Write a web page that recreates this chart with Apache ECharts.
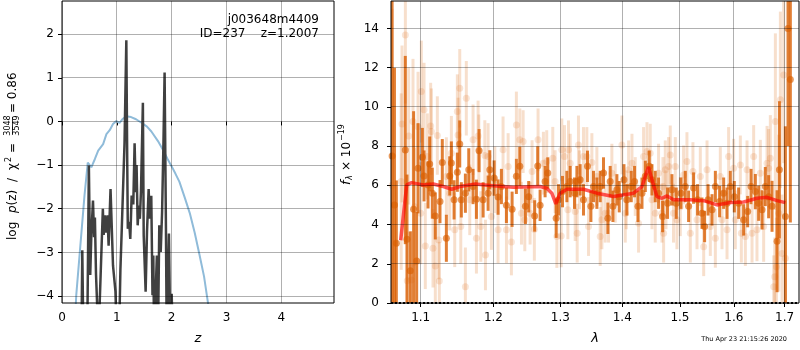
<!DOCTYPE html>
<html>
<head>
<meta charset="utf-8">
<script src="https://cdn.jsdelivr.net/npm/echarts@6/dist/echarts.min.js"></script>
<style>html,body{margin:0;padding:0;background:#fff}#main{width:800px;height:350px}</style>
</head>
<body>
<div id="main"></div>
<script>
// left panel: log p(z)
var zTicks = [0, 1, 2, 3, 4];
var pzTicks = [-4, -3, -2, -1, 0, 1, 2];
var zRange = [0, 4.96];
var pzRange = [-4.16, 2.76];
var pzSmooth = [[0.24,-4.5],[0.26,-3.98],[0.32,-3.07],[0.41,-1.70],[0.47,-0.94],[0.535,-1.05],[0.60,-0.86],
  [0.66,-0.67],[0.75,-0.52],[0.81,-0.29],[0.87,-0.2],[0.93,-0.06],[0.99,0.01],[1.05,-0.03],[1.10,0.05],
  [1.17,0.12],[1.26,0.10],[1.35,0.05],[1.45,-0.03],[1.55,-0.12],[1.63,-0.23],[1.75,-0.45],[1.84,-0.65],
  [1.92,-0.85],[2.0,-1.03],[2.07,-1.2],[2.14,-1.38],[2.24,-1.75],[2.33,-2.1],[2.42,-2.55],[2.51,-3.07],
  [2.59,-3.55],[2.66,-4.14],[2.70,-4.5]];
var pzFit = [[0.30,-5],[0.355,-5],[0.37,-2.95],[0.39,-5],[0.46,-5],[0.49,-1.01],[0.515,-3.52],[0.535,-2.6],
  [0.565,-1.81],[0.585,-2.65],[0.60,-2.2],[0.62,-3.5],[0.665,-5],[0.70,-5],[0.745,-2.0],[0.76,-2.6],
  [0.78,-2.15],[0.80,-2.55],[0.83,-2.15],[0.85,-2.85],[0.885,-1.55],[0.93,-3.3],[0.975,-3.9],[1.0,-5],
  [1.04,-5],[1.065,-3.4],[1.09,-2.46],[1.12,-2.5],[1.14,-0.5],[1.173,1.86],[1.19,-1.0],[1.20,-2.46],
  [1.225,-2.3],[1.245,-2.69],[1.27,-1.7],[1.30,-1.9],[1.324,-0.5],[1.345,-1.62],[1.36,-1.0],[1.38,-2.38],
  [1.40,-1.93],[1.42,-2.23],[1.44,-1.6],[1.475,0.43],[1.49,-2.61],[1.525,-3.9],[1.55,-2.53],[1.58,-1.55],
  [1.60,-2.23],[1.628,-1.7],[1.65,-3.98],[1.665,-3.07],[1.68,-5],[1.73,-3.07],[1.75,-5],[1.774,-2.38],
  [1.80,-2.99],[1.825,-2.08],[1.85,-0.5],[1.871,1.12],[1.895,-2.38],[1.91,-5],[1.95,-2.57],[1.975,-5],
  [2.0,-3.95],[2.02,-5],[2.10,-5]];

// right panel: spectrum [lambda, flux, err]
var lamTicks = [1.1, 1.2, 1.3, 1.4, 1.5, 1.6, 1.7];
var fluxTicks = [0, 2, 4, 6, 8, 10, 12, 14];
var lamRange = [1.0616, 1.7296];
var fluxRange = [0, 15.4];
var specDark = [[1.0630,7.5,8.5],[1.0660,5.0,7.0],[1.0684,3.05,3.2],[1.0799,7.8,4.8],[1.0821,3.25,3.3],
  [1.0864,1.65,2.0],[1.0907,4.78,5.0],[1.0947,2.14,2.5],[1.0965,6.87,2.3],[1.1022,7.43,1.5],[1.1044,6.48,1.3],
  [1.1097,6.02,1.2],[1.1119,7.09,1.4],[1.1154,5.6,1.3],[1.1194,4.44,1.2],[1.1257,5.17,1.1],[1.1288,7.16,1.2],
  [1.1343,3.3,1.2],[1.1389,6.48,1.0],[1.1411,7.14,1.1],[1.1448,5.26,1.0],[1.1493,6.67,1.0],[1.1526,8.11,1.2],
  [1.1548,5.26,0.9],[1.1604,5.6,1.0],[1.1651,6.79,1.1],[1.1711,5.94,0.9],[1.1758,5.29,1.0],[1.1796,7.77,1.1],
  [1.1853,5.26,0.9],[1.1924,5.6,0.9],[1.1948,6.79,1.0],[1.2010,6.37,0.9],[1.2067,5.4,0.9],[1.2115,5.94,0.9],
  [1.2188,4.98,0.9],[1.2271,4.78,0.9],[1.2334,6.46,0.9],[1.2385,6.97,1.0],[1.2468,4.93,0.9],[1.2517,5.42,0.8],
  [1.2607,4.44,0.8],[1.2653,6.99,1.0],[1.2689,4.98,0.8],[1.2765,6.19,0.8],[1.2806,6.63,0.8],[1.2935,4.32,1.0],
  [1.2971,5.26,0.8],[1.3034,5.68,0.8],[1.3102,5.94,0.8],[1.3154,6.19,0.8],[1.3222,5.6,0.8],[1.3260,6.19,0.8],
  [1.3312,6.28,0.8],[1.3365,5.26,0.8],[1.3429,6.97,0.8],[1.3484,4.93,0.8],[1.3526,5.94,0.8],[1.3581,5.6,0.8],
  [1.3635,5.94,0.8],[1.3689,6.63,0.8],[1.3761,4.32,0.8],[1.3799,6.19,0.8],[1.3844,4.93,0.8],[1.3910,5.77,0.8],
  [1.3949,5.42,0.8],[1.4028,6.28,0.8],[1.4078,5.26,0.8],[1.4151,5.94,0.8],[1.4207,6.19,0.8],[1.4265,4.93,0.8],
  [1.4334,5.6,0.8],[1.4391,6.46,0.8],[1.4459,6.97,0.8],[1.4506,6.28,0.8],[1.4563,5.94,0.8],[1.4621,5.6,0.8],
  [1.4692,4.41,0.8],[1.4779,5.09,0.8],[1.4857,5.77,0.8],[1.4934,5.09,0.8],[1.5018,5.6,0.8],[1.5096,5.94,0.8],
  [1.5156,4.93,0.8],[1.5247,5.86,0.8],[1.5320,5.26,0.8],[1.5401,4.58,0.8],[1.5449,3.9,0.8],[1.5513,5.26,0.8],
  [1.5587,4.75,0.8],[1.5649,5.94,0.8],[1.5729,5.17,0.8],[1.5805,5.6,0.8],[1.5869,5.09,0.8],[1.5932,5.94,0.8],
  [1.6008,5.42,0.8],[1.6091,5.09,0.8],[1.6188,4.24,0.8],[1.6266,4.66,0.8],[1.6332,5.94,0.9],[1.6416,5.68,0.9],
  [1.6481,5.09,0.9],[1.6548,4.75,1.0],[1.6613,5.94,1.0],[1.6679,5.42,1.1],[1.6747,4.93,1.3],[1.6848,3.15,2.6],
  [1.6895,6.79,3.5],[1.7017,4.41,4.6],[1.7070,14.0,6.0],[1.7118,11.4,7.3]];
var specLite = [[1.0630,6.0,9.0],[1.0746,6.19,4.5],[1.0757,9.13,4.0],[1.0800,13.67,3.5],[1.0825,1.14,2.5],
  [1.0843,8.52,3.5],[1.0877,1.17,2.5],[1.0899,9.25,3.2],[1.0920,4.91,3.0],[1.0965,8.99,2.8],[1.1000,4.58,2.6],
  [1.1008,10.78,2.6],[1.1044,9.85,2.4],[1.1061,2.91,2.2],[1.1088,7.47,2.2],[1.1132,9.03,2.2],[1.1141,8.74,2.2],
  [1.1163,2.79,2.0],[1.1194,1.89,2.0],[1.1221,8.54,2.0],[1.1240,3.21,2.0],[1.1248,1.12,2.0],[1.1343,6.45,2.0],
  [1.1389,5.6,1.9],[1.1411,7.64,1.9],[1.1457,3.73,1.9],[1.1493,9.76,1.9],[1.1503,8.57,1.9],[1.1526,10.95,2.0],
  [1.1540,3.9,1.9],[1.1604,0.83,2.0],[1.1617,10.44,1.9],[1.1665,5.26,1.8],[1.1711,8.32,1.8],[1.1758,3.30,1.8],
  [1.1782,8.52,1.8],[1.1792,7.81,1.8],[1.1820,3.9,1.8],[1.1877,7.52,1.8],[1.1886,2.45,1.8],[1.1924,7.47,1.7],
  [1.1971,4.41,1.7],[1.2020,6.28,1.7],[1.2067,3.73,1.7],[1.2139,7.81,1.7],[1.2188,3.73,1.7],[1.2213,6.96,1.7],
  [1.2261,3.11,1.7],[1.2334,9.08,1.7],[1.2385,8.32,1.6],[1.2409,4.58,1.6],[1.2434,8.23,1.6],[1.2459,4.24,1.6],
  [1.2538,4.58,1.6],[1.2568,6.70,1.6],[1.2602,3.76,1.6],[1.2658,8.32,1.6],[1.2739,7.13,1.6],[1.2790,7.21,1.6],
  [1.2883,7.38,1.6],[1.2919,6.19,1.6],[1.2946,3.39,1.6],[1.3013,3.42,1.6],[1.3023,7.81,1.6],[1.3065,7.47,1.6],
  [1.3118,4.75,1.5],[1.3128,7.81,1.5],[1.3154,7.13,1.5],[1.3233,4.66,1.5],[1.3265,3.56,1.5],[1.3285,8.06,1.5],
  [1.3301,6.28,1.5],[1.3365,7.47,1.5],[1.3419,7.47,1.5],[1.3446,3.9,1.5],[1.3500,7.16,1.5],[1.3581,6.45,1.5],
  [1.3635,3.39,1.5],[1.3662,4.24,1.5],[1.3717,4.58,1.5],[1.3772,4.58,1.5],[1.3827,6.62,1.5],[1.3882,5.6,1.5],
  [1.3994,8.06,1.5],[1.4050,4.58,1.5],[1.4067,5.26,1.5],[1.4106,6.79,1.5],[1.4163,7.13,1.5],[1.4219,5.94,1.5],
  [1.4275,4.07,1.5],[1.4361,7.47,1.5],[1.4420,7.72,1.5],[1.4476,7.64,1.5],[1.4506,5.26,1.5],[1.4563,4.58,1.5],
  [1.4621,6.62,1.5],[1.4681,4.58,1.5],[1.4698,5.94,1.5],[1.4710,3.56,1.5],[1.4739,6.79,1.5],[1.4751,5.26,1.5],
  [1.4797,6.96,1.5],[1.4827,7.55,1.5],[1.4885,4.58,1.5],[1.4917,6.96,1.5],[1.4946,4.24,1.5],[1.5006,4.91,1.5],
  [1.5065,6.53,1.5],[1.5126,7.21,1.5],[1.5187,3.56,1.5],[1.5235,6.70,1.5],[1.5309,4.24,1.5],[1.5370,6.45,1.5],
  [1.5432,2.87,1.5],[1.5494,6.79,1.5],[1.5555,3.90,1.5],[1.5649,3.30,1.5],[1.5742,6.45,1.5],[1.5774,4.24,1.5],
  [1.5869,3.73,1.5],[1.5899,7.47,1.5],[1.5995,6.87,1.5],[1.6027,4.24,1.5],[1.6124,7.04,1.5],[1.6143,3.56,1.5],
  [1.6221,3.39,1.5],[1.6253,6.79,1.5],[1.6351,3.56,1.5],[1.6383,7.47,1.6],[1.6448,3.73,1.6],[1.6514,6.62,1.7],
  [1.6580,3.9,1.8],[1.6647,7.13,1.9],[1.6679,6.87,2.0],[1.6713,7.38,2.2],[1.6781,0.83,1.6],[1.6801,1.34,2.0],
  [1.6814,9.25,4.5],[1.6835,1.85,2.5],[1.6881,4.58,4.0],[1.6915,10.36,4.5],[1.6949,2.53,3.0],[1.6983,11.63,4.5],
  [1.7017,2.28,3.0]];
var specModel = [[1.0740,3.2],[1.0817,6.02],[1.0882,6.14],[1.1034,6.02],[1.1167,6.07],[1.1302,5.94],
  [1.1416,5.8],[1.1530,5.94],[1.1739,6.07],[1.1952,5.99],[1.2290,5.9],[1.2689,5.94],[1.2791,5.85],
  [1.2868,5.6],[1.2930,5.05],[1.2997,5.6],[1.3102,5.8],[1.3365,5.8],[1.3581,5.6],[1.3854,5.43],
  [1.4191,5.6],[1.4334,5.94],[1.4391,6.46],[1.4447,6.94],[1.4506,6.28],[1.4592,5.43],[1.4681,5.34],
  [1.4768,5.46],[1.4886,5.26],[1.5187,5.26],[1.5432,5.22],[1.5680,5.0],[1.5932,5.12],[1.6188,5.15],
  [1.6449,5.34],[1.6647,5.39],[1.6848,5.22],[1.7017,5.12]];
var zeroLine = [[lamRange[0], 0], [lamRange[1], 0]];

var FONT = 'DejaVu Sans';
function minus(v) { return String(v).replace('-', '\u2212'); }
function errBar(color) {
    return function (params, api) {
        var x = api.value(0), y = api.value(1), e = api.value(2);
        var p1 = api.coord([x, y - e]);
        var p2 = api.coord([x, y + e]);
        return {type: 'line', shape: {x1: p1[0], y1: p1[1], x2: p2[0], y2: p2[1]},
            style: {stroke: color, lineWidth: 3}};
    };
}
// grid lines: one custom item per tick, snapped to the pixel grid
function gridSeries(idx, vertical, ticks, xr, yr) {
    var data = ticks.map(function (v) { return vertical ? [v, yr[0]] : [xr[0], v]; });
    return {type: 'custom', xAxisIndex: idx, yAxisIndex: idx, data: data, z: 8, clip: false,
        encode: {x: 0, y: 1},
        renderItem: function (params, api) {
            var v = api.value(vertical ? 0 : 1);
            var a = vertical ? api.coord([v, yr[0]]) : api.coord([xr[0], v]);
            var b = vertical ? api.coord([v, yr[1]]) : api.coord([xr[1], v]);
            var shape = vertical
                ? {x1: Math.floor(a[0]) + 0.5, y1: a[1], x2: Math.floor(a[0]) + 0.5, y2: b[1]}
                : {x1: a[0], y1: Math.floor(a[1]) + 0.5, x2: b[0], y2: Math.floor(a[1]) + 0.5};
            return {type: 'line', shape: shape, style: {stroke: 'rgba(0,0,0,0.31)', lineWidth: 1}};
        }};
}
function frame(idx, xr, yr) {
    return {type: 'line', xAxisIndex: idx, yAxisIndex: idx, showSymbol: false, silent: true, clip: false, z: 9,
        data: [[xr[0], yr[0]], [xr[1], yr[0]], [xr[1], yr[1]], [xr[0], yr[1]], [xr[0], yr[0]]],
        lineStyle: {color: '#000', width: 1}};
}
var tickStyle = {show: true, length: 4, lineStyle: {color: '#000', width: 1}};
var labelStyle = {color: '#000', fontSize: 12, fontFamily: FONT};
function txt(x, y, s, font, extra) {
    return {type: 'text', x: x, y: y, style: Object.assign({text: s, fill: '#000', font: font,
        verticalAlign: 'middle'}, extra || {})};
}

var chart = echarts.init(document.getElementById('main'));
var option = {
    animation: false,
    grid: [
        {left: 62, top: 1, width: 272, height: 303, show: false},
        {left: 391, top: 1, width: 408, height: 302, show: false}
    ],
    xAxis: [
        {gridIndex: 0, type: 'value', min: zRange[0], max: zRange[1],
            axisLine: {show: false}, axisTick: Object.assign({customValues: zTicks}, tickStyle),
            axisLabel: Object.assign({customValues: zTicks, margin: 9}, labelStyle),
            splitLine: {show: false},
            name: 'z', nameLocation: 'middle', nameGap: 29,
            nameTextStyle: {fontSize: 13, fontStyle: 'italic', color: '#000', fontFamily: FONT}},
        {gridIndex: 1, type: 'log', min: lamRange[0], max: lamRange[1],
            axisLine: {show: false}, axisTick: Object.assign({customValues: lamTicks}, tickStyle),
            axisLabel: Object.assign({customValues: lamTicks, margin: 9,
                formatter: function (v) { return Number(v).toFixed(1); }}, labelStyle),
            splitLine: {show: false},
            name: 'λ', nameLocation: 'middle', nameGap: 29,
            nameTextStyle: {fontSize: 13, fontStyle: 'italic', color: '#000', fontFamily: FONT}}
    ],
    yAxis: [
        {gridIndex: 0, type: 'value', min: pzRange[0], max: pzRange[1],
            axisLine: {show: false}, axisTick: Object.assign({customValues: pzTicks}, tickStyle),
            axisLabel: Object.assign({customValues: pzTicks, margin: 8, formatter: minus}, labelStyle),
            splitLine: {show: false}},
        {gridIndex: 1, type: 'value', min: fluxRange[0], max: fluxRange[1],
            axisLine: {show: false}, axisTick: Object.assign({customValues: fluxTicks}, tickStyle),
            axisLabel: Object.assign({customValues: fluxTicks, margin: 12}, labelStyle),
            splitLine: {show: false}}
    ],
    graphic: [
        txt(319, 20, 'j003648m4409', '12px "DejaVu Sans"', {align: 'right'}),
        txt(319, 34, 'ID=237    z=1.2007', '12px "DejaVu Sans"', {align: 'right'}),
        {type: 'group', x: 12.5, y: 240, rotation: Math.PI / 2, children: [
            txt(0, 0, 'log', '12px "DejaVu Sans"'),
            txt(27, 0, 'p', 'italic 12px "DejaVu Sans"'),
            txt(34.5, 0, '(z)', '12px "DejaVu Sans"'),
            txt(58, 0, '/', '12px "DejaVu Sans"'),
            txt(70, 0, 'χ', '12px "DejaVu Sans"'),
            txt(78, -4, '2', '8px "DejaVu Sans"'),
            txt(87, 0, '=', '12px "DejaVu Sans"'),
            txt(114.5, -4.5, '3048', '8px "DejaVu Sans"', {align: 'center'}),
            {type: 'line', shape: {x1: 106, y1: 0, x2: 123, y2: 0}, style: {stroke: '#000', lineWidth: 0.8}},
            txt(114.5, 4.5, '3549', '8px "DejaVu Sans"', {align: 'center'}),
            txt(127, 0, '= 0.86', '12px "DejaVu Sans"')
        ]},
        {type: 'group', x: 347, y: 185, rotation: Math.PI / 2, children: [
            txt(0, 0, 'f', 'italic 13px "DejaVu Sans"'),
            txt(5, 3, 'λ', 'italic 8px "DejaVu Sans"'),
            txt(14, 0, '× 10', '12px "DejaVu Sans"'),
            txt(44, -5, '\u221219', '8px "DejaVu Sans"')
        ]},
        txt(787, 339, 'Thu Apr 23 21:15:26 2020', '6.5px "DejaVu Sans"', {align: 'right'})
    ],
    series: [
        gridSeries(0, true, zTicks, zRange, pzRange),
        gridSeries(0, false, pzTicks, zRange, pzRange),
        gridSeries(1, true, lamTicks, lamRange, fluxRange),
        gridSeries(1, false, fluxTicks, lamRange, fluxRange),
        frame(0, zRange, pzRange),
        frame(1, lamRange, fluxRange),
        {type: 'line', xAxisIndex: 0, yAxisIndex: 0, data: pzSmooth, showSymbol: false, z: 4,
            lineStyle: {color: '#8fbbd9', width: 2}},
        {type: 'line', xAxisIndex: 0, yAxisIndex: 0, data: pzFit, showSymbol: false, z: 5,
            lineStyle: {color: '#404040', width: 2.5}},
        {type: 'custom', xAxisIndex: 1, yAxisIndex: 1, data: specLite, clip: true, z: 4,
            encode: {x: 0, y: 1}, renderItem: errBar('rgba(217,95,2,0.2)')},
        {type: 'scatter', xAxisIndex: 1, yAxisIndex: 1, data: specLite, clip: true, z: 4,
            symbolSize: 7, itemStyle: {color: 'rgba(217,95,2,0.2)'}},
        {type: 'custom', xAxisIndex: 1, yAxisIndex: 1, data: specDark, clip: true, z: 5,
            encode: {x: 0, y: 1}, renderItem: errBar('rgba(217,95,2,0.8)')},
        {type: 'scatter', xAxisIndex: 1, yAxisIndex: 1, data: specDark, clip: true, z: 5,
            symbolSize: 7, itemStyle: {color: 'rgba(217,95,2,0.8)'}},
        {type: 'line', xAxisIndex: 1, yAxisIndex: 1, data: specModel, showSymbol: false, z: 6,
            lineStyle: {color: 'rgba(255,0,0,0.65)', width: 3.5}},
        {type: 'line', xAxisIndex: 1, yAxisIndex: 1, data: zeroLine, showSymbol: false, z: 10,
            lineStyle: {color: '#000', width: 2, type: 'dotted'}}
    ]
};
chart.setOption(option);
</script>
</body>
</html>
